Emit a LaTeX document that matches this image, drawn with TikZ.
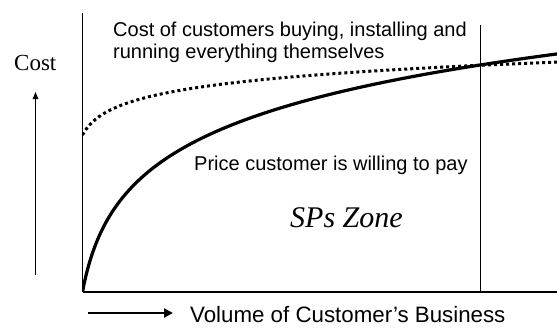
\documentclass[tikz,border=0pt]{standalone}
\usepackage{fontspec}
\setmainfont{Liberation Serif}
\newfontfamily\arialfont{Liberation Sans}
\usetikzlibrary{arrows.meta}
\tikzset{
  sanslabel/.style={inner sep=0pt, anchor=base west, font=\arialfont\fontsize{20}{23}\selectfont},
  axisline/.style={line width=1.3pt},
  pricecurve/.style={line width=3.2pt},
  diycurve/.style={line width=3pt, dash pattern=on 3pt off 3pt},
}
\begin{document}
\begin{tikzpicture}[x=1pt,y=-1pt]
\useasboundingbox (0,0) rectangle (557,327);
% named coordinates
\coordinate (ytop) at (82.5,13);
\coordinate (origin) at (82.5,292);
\coordinate (xend) at (557,292);
\coordinate (vtop) at (480.5,25);
\coordinate (vbot) at (480.5,293);
\coordinate (costlow) at (35.5,275);
\coordinate (costhigh) at (35.5,92);
\coordinate (volstart) at (88,313);
\coordinate (volend) at (173,313);
% axes
\draw[axisline] (ytop) -- (origin);
\draw[line width=1.6pt] (origin) -- (xend);
\draw[line width=1.1pt] (vtop) -- (vbot);
% curves
\begin{scope}
\clip (82.5,0) rectangle (557,292);
\draw[pricecurve] plot[domain=0:21.8, samples=150, smooth] ({82.5+\x*\x},{292-64.3*ln(1+\x*\x/12)});
\draw[diycurve] plot[domain=0:475, samples=150, smooth] ({82.5+\x},{135-18.8*ln(1+\x/10)});
\end{scope}
% arrows
\draw[line width=1pt, -{Triangle[length=7pt,width=5.5pt]}] (costlow) -- (costhigh);
\draw[line width=2.7pt, -{Triangle[length=9pt,width=9pt]}] (volstart) -- (volend);
% texts
\node[sanslabel] (diy1) at (113,36) {Cost of customers buying, installing and};
\node[sanslabel] (diy2) at (113,58.5) {running everything themselves};
\node[sanslabel] (price) at (194,170) {Price customer is willing to pay};
\node[inner sep=0pt, anchor=base west, font=\fontsize{30}{35}\selectfont\itshape] (zone) at (290,227) {SPs Zone};
\node[inner sep=0pt, anchor=base west, font=\fontsize{23}{27}\selectfont] (cost) at (14,70) {Cost};
\node[inner sep=0pt, anchor=base west, font=\arialfont\fontsize{22.3}{26}\selectfont] (volume) at (190,322.5) {Volume of Customer’s Business};
\end{tikzpicture}
\end{document}
